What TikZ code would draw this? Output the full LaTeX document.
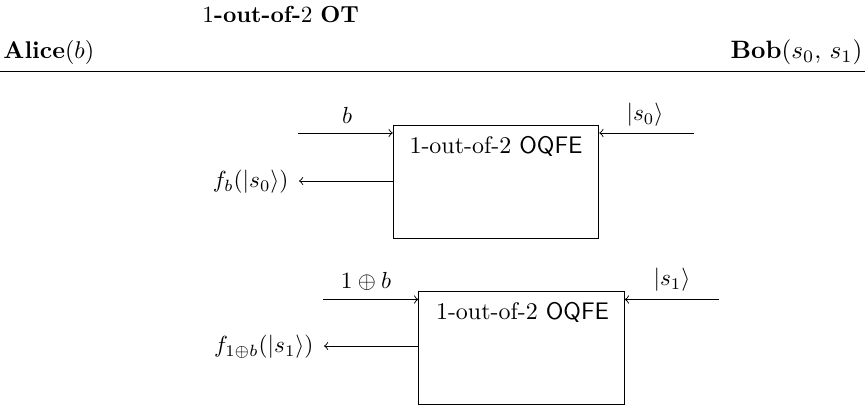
\documentclass[tikz,border=0pt]{standalone}
\begin{document}
\begin{tikzpicture}[x=0.43pt,y=-0.43pt,
  qbox/.style={draw, inner sep=0pt, minimum width=88.4pt, minimum height=48.6pt},
  lbl/.style={inner sep=0pt},
  conn/.style={->}]
\useasboundingbox (0,0) rectangle (865,406);
% header
\node[lbl, anchor=west] (title) at (202,14) {$1$\textbf{-out-of-}$2$ \textbf{OT}};
\node[lbl, anchor=west, scale=1.04] (alice) at (3,52) {\textbf{Alice}$(b)$};
\node[lbl, anchor=east, scale=1.08] (bob) at (863,52) {\textbf{Bob}$(s_0,\,s_1)$};
\coordinate (l1) at (0,71);
\coordinate (l2) at (865,71);
\draw (l1) -- (l2);
% first OQFE
\node[qbox] (q1) at (496,181.5) {};
\node[lbl, scale=1.03] (t1) at (496,146) {1-out-of-2 \textsf{OQFE}};
\coordinate (i1) at (298,133);
\coordinate (j1) at (694,133);
\coordinate (o1) at (299,181);
\draw[conn] (i1) -- (i1 -| q1.west);
\draw[conn] (j1) -- (j1 -| q1.east);
\draw[conn] (o1 -| q1.west) -- (o1);
\node[lbl] (b1) at (347,115) {$b$};
\node[lbl] (s0) at (645,115) {$|s_0\rangle$};
\node[lbl, anchor=east] (f0) at (289,182) {$f_b(|s_0\rangle)$};
% second OQFE
\node[qbox] (q2) at (521.5,347.5) {};
\node[lbl, scale=1.03] (t2) at (522.5,312) {1-out-of-2 \textsf{OQFE}};
\coordinate (i2) at (323,299.5);
\coordinate (j2) at (719,299.5);
\coordinate (o2) at (324,346);
\draw[conn] (i2) -- (i2 -| q2.west);
\draw[conn] (j2) -- (j2 -| q2.east);
\draw[conn] (o2 -| q2.west) -- (o2);
\node[lbl] (b2) at (366,281) {$1\oplus b$};
\node[lbl] (s1) at (672,280) {$|s_1\rangle$};
\node[lbl, anchor=east] (f1) at (314,347) {$f_{1\oplus b}(|s_1\rangle)$};
\end{tikzpicture}
\end{document}
